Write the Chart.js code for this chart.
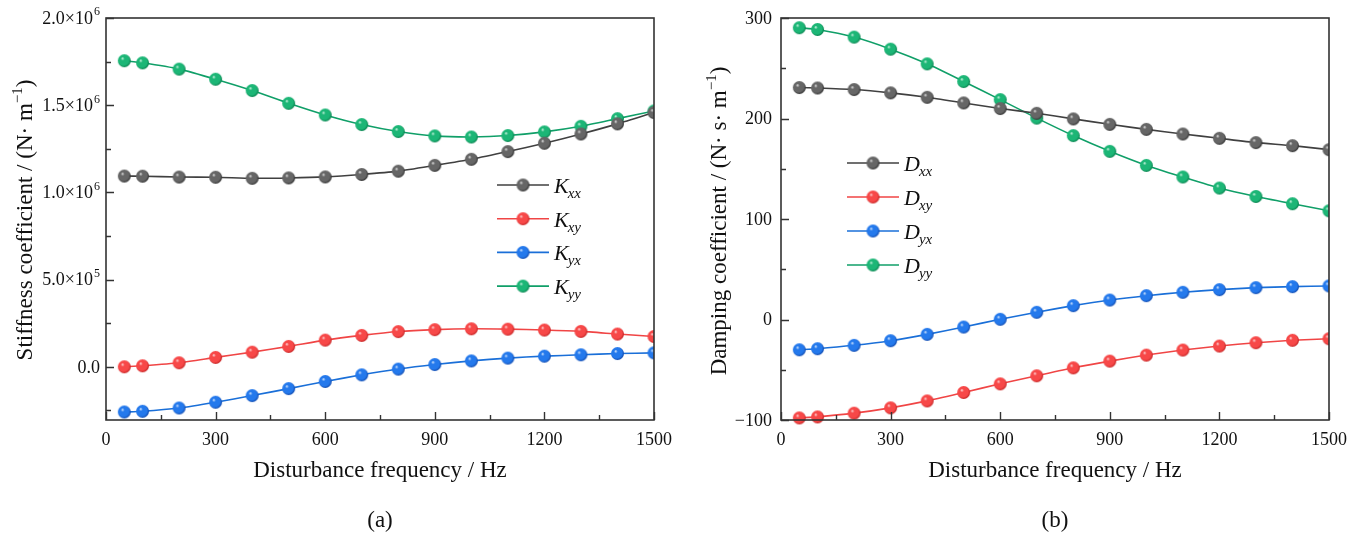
<!DOCTYPE html>
<html>
<head>
<meta charset="utf-8">
<script src="https://cdn.jsdelivr.net/npm/chart.js@4.4.0/dist/chart.umd.min.js"></script>
<style>
    html, body { margin: 0; padding: 0; background: #fff; }
    #wrap { position: relative; width: 1367px; height: 538px; }
    #stiffChart { position: absolute; left: 0; top: 0; }
    #dampChart { position: absolute; left: 690px; top: 0; }
</style>
</head>
<body>
<div id="wrap">
    <canvas id="stiffChart" width="690" height="538"></canvas>
    <canvas id="dampChart" width="677" height="538"></canvas>
</div>
<script>
// Disturbance frequency (Hz)
const freq = [50, 100, 200, 300, 400, 500, 600, 700, 800, 900, 1000, 1100, 1200, 1300, 1400, 1500];

// (a) stiffness coefficients, N/m
const kxx = [1.094e6, 1.093e6, 1.088e6, 1.087e6, 1.081e6, 1.083e6, 1.089e6, 1.103e6, 1.122e6, 1.155e6, 1.190e6, 1.234e6, 1.282e6, 1.335e6, 1.393e6, 1.458e6];
const kxy = [0, 6e3, 2.3e4, 5.4e4, 8.4e4, 1.17e5, 1.53e5, 1.80e5, 2.02e5, 2.13e5, 2.18e5, 2.16e5, 2.11e5, 2.03e5, 1.88e5, 1.74e5];
const kyx = [-2.59e5, -2.55e5, -2.36e5, -2.03e5, -1.65e5, -1.25e5, -8.4e4, -4.6e4, -1.3e4, 1.3e4, 3.4e4, 5.0e4, 6.1e4, 6.9e4, 7.6e4, 8.0e4];
const kyy = [1.755e6, 1.743e6, 1.707e6, 1.649e6, 1.584e6, 1.511e6, 1.444e6, 1.389e6, 1.349e6, 1.324e6, 1.318e6, 1.326e6, 1.347e6, 1.379e6, 1.423e6, 1.467e6];

// (b) damping coefficients, N*s/m
const dxx = [230.8, 230.4, 228.8, 225.5, 221.1, 215.5, 209.9, 205.2, 199.6, 194.2, 189.2, 184.6, 180.3, 176.0, 173.0, 169.0];
const dxy = [-97.9, -96.9, -93.2, -87.9, -81.0, -72.6, -64.0, -56.0, -48.1, -41.4, -35.4, -30.4, -26.4, -23.1, -20.7, -19.1];
const dyx = [-30.1, -29.1, -25.7, -21.1, -14.8, -7.5, 0.2, 7.2, 13.8, 19.4, 23.7, 27.1, 29.7, 31.7, 32.7, 33.4];
const dyy = [290.3, 288.6, 281.0, 269.0, 254.4, 236.8, 218.8, 200.4, 183.0, 167.3, 153.3, 141.8, 130.8, 122.4, 115.2, 108.2];

// ticks
const xMajor = [0, 300, 600, 900, 1200, 1500];
const xMinor = [150, 450, 750, 1050, 1350];
const kMajor = [0, 5e5, 1e6, 1.5e6, 2e6];
const kLabels = [['0.0', ''], ['5.0×10', '5'], ['1.0×10', '6'], ['1.5×10', '6'], ['2.0×10', '6']];
const kMinor = [-2.5e5, 2.5e5, 7.5e5, 1.25e6, 1.75e6];
const dMajor = [-100, 0, 100, 200, 300];
const dLabels = [['\u2212100', ''], ['0', ''], ['100', ''], ['200', ''], ['300', '']];
const dMinor = [-50, 50, 150, 250];

const SERIF = '"Liberation Serif", "Times New Roman", serif';

const palette = {
    gray:  { line: '#404040', light: '#e6e6e6', base: '#666666', dark: '#3a3a3a' },
    red:   { line: '#f04545', light: '#ffe0e0', base: '#f74848', dark: '#cc2a2a' },
    blue:  { line: '#1a6fd8', light: '#dcecff', base: '#2479ec', dark: '#1552b8' },
    green: { line: '#109f68', light: '#d4f8e6', base: '#1cb676', dark: '#0d8a55' }
};

// shaded ball used as point style
function makeBall(c) {
    const r = 6.5;
    const s = 15;
    const cv = document.createElement('canvas');
    cv.width = s; cv.height = s;
    const g = cv.getContext('2d');
    const cx = s / 2, cy = s / 2;
    const grad = g.createRadialGradient(cx - r * 0.3, cy - r * 0.38, 0, cx - r * 0.1, cy - r * 0.1, r * 1.05);
    grad.addColorStop(0, c.light);
    grad.addColorStop(0.28, c.base);
    grad.addColorStop(0.8, c.base);
    grad.addColorStop(1, c.dark);
    g.fillStyle = grad;
    g.beginPath();
    g.arc(cx, cy, r, 0, Math.PI * 2);
    g.fill();
    return cv;
}

const balls = {};
Object.keys(palette).forEach(k => { balls[k] = makeBall(palette[k]); });

function series(label, sub, ys, col) {
    return {
        label: label,
        sub: sub,
        colorKey: col,
        data: freq.map((f, i) => ({ x: f, y: ys[i] })),
        borderColor: palette[col].line,
        backgroundColor: palette[col].base,
        borderWidth: 1.6,
        tension: 0.2,
        pointStyle: balls[col],
        pointRadius: 6.5,
        clip: { left: 10, top: 10, bottom: 10, right: 0 }
    };
}

// text with optional superscript
function drawSup(ctx, base, sup, x, y, align, size) {
    const mainFont = size + 'px ' + SERIF;
    const supFont = Math.round(size * 0.68) + 'px ' + SERIF;
    ctx.font = mainFont;
    const wb = ctx.measureText(base).width;
    ctx.font = supFont;
    const ws = sup ? ctx.measureText(sup).width + 1 : 0;
    const total = wb + ws;
    let sx = x;
    if (align === 'right') sx = x - total;
    else if (align === 'center') sx = x - total / 2;
    ctx.textAlign = 'left';
    ctx.textBaseline = 'middle';
    ctx.font = mainFont;
    ctx.fillText(base, sx, y);
    if (sup) {
        ctx.font = supFont;
        ctx.fillText(sup, sx + wb + 1, y - size * 0.38);
    }
}

// segments: [text, font, dy]
function drawSegments(ctx, segs, x, y) {
    let w = 0;
    segs.forEach(s => { ctx.font = s[1]; w += ctx.measureText(s[0]).width; });
    let cx = x - w / 2;
    ctx.textAlign = 'left';
    ctx.textBaseline = 'alphabetic';
    segs.forEach(s => {
        ctx.font = s[1];
        ctx.fillText(s[0], cx, y + s[2]);
        cx += ctx.measureText(s[0]).width;
    });
}

const framePlugin = {
    id: 'frame',
    afterDatasetsDraw(chart, args, opts) {
        const ctx = chart.ctx;
        const a = chart.chartArea;
        const xs = chart.scales.x, ys = chart.scales.y;
        ctx.save();
        ctx.strokeStyle = '#333';
        ctx.lineWidth = 1.6;
        ctx.strokeRect(a.left, a.top, a.right - a.left, a.bottom - a.top);

        ctx.lineWidth = 1.4;
        ctx.beginPath();
        opts.xMajor.forEach(v => {
            const px = Math.round(xs.getPixelForValue(v)) + 0.5;
            ctx.moveTo(px, a.bottom); ctx.lineTo(px, a.bottom - 8);
        });
        opts.xMinor.forEach(v => {
            const px = Math.round(xs.getPixelForValue(v)) + 0.5;
            ctx.moveTo(px, a.bottom); ctx.lineTo(px, a.bottom - 5);
        });
        opts.yMajor.forEach(v => {
            const py = Math.round(ys.getPixelForValue(v)) + 0.5;
            ctx.moveTo(a.left, py); ctx.lineTo(a.left + 8, py);
        });
        opts.yMinor.forEach(v => {
            const py = Math.round(ys.getPixelForValue(v)) + 0.5;
            ctx.moveTo(a.left, py); ctx.lineTo(a.left + 5, py);
        });
        ctx.stroke();

        ctx.fillStyle = '#111';
        opts.xMajor.forEach(v => {
            drawSup(ctx, String(v), '', xs.getPixelForValue(v), a.bottom + 20, 'center', 18);
        });
        opts.yMajor.forEach((v, i) => {
            const lab = opts.yLabels[i];
            drawSup(ctx, lab[0], lab[1], a.left - opts.yGap, ys.getPixelForValue(v) + 1, 'right', 18);
        });
        ctx.restore();
    },
    afterDraw(chart, args, opts) {
        const ctx = chart.ctx;
        const a = chart.chartArea;
        const cx = (a.left + a.right) / 2;
        ctx.save();
        ctx.fillStyle = '#111';
        const big = '23px ' + SERIF;
        const small = '15px ' + SERIF;
        drawSegments(ctx, [['Disturbance frequency / Hz', big, 0]], cx, 477);
        drawSegments(ctx, [[opts.panel, big, 0]], cx, 527);

        ctx.save();
        ctx.translate(opts.yTitleX, opts.yTitleY);
        ctx.rotate(-Math.PI / 2);
        drawSegments(ctx, [[opts.yTitle, big, 0], ['\u22121', small, -10], [')', big, 0]], 0, 0);
        ctx.restore();

        // legend
        chart.data.datasets.forEach((ds, i) => {
            const y = opts.legY + i * opts.legStep;
            const x0 = opts.legX;
            ctx.strokeStyle = ds.borderColor;
            ctx.lineWidth = 1.6;
            ctx.beginPath();
            ctx.moveTo(x0, y); ctx.lineTo(x0 + 52, y);
            ctx.stroke();
            const b = balls[ds.colorKey];
            ctx.drawImage(b, x0 + 26 - b.width / 2, y - b.height / 2);
            ctx.textAlign = 'left';
            ctx.textBaseline = 'alphabetic';
            ctx.font = 'italic 22px ' + SERIF;
            ctx.fillStyle = '#111';
            ctx.fillText(ds.label, x0 + 57, y + 8);
            const w = ctx.measureText(ds.label).width;
            ctx.font = 'italic 15px ' + SERIF;
            ctx.fillText(ds.sub, x0 + 56 + w, y + 13);
        });
        ctx.restore();
    }
};

function makeChart(id, datasets, yMin, yMax, pad, frameOpts) {
    return new Chart(document.getElementById(id).getContext('2d'), {
        type: 'line',
        data: { datasets: datasets },
        options: {
            responsive: false,
            animation: false,
            devicePixelRatio: 1,
            layout: { padding: pad },
            scales: {
                x: { type: 'linear', min: 0, max: 1500, display: false },
                y: { type: 'linear', min: yMin, max: yMax, display: false }
            },
            plugins: {
                legend: { display: false },
                tooltip: { enabled: false },
                frame: frameOpts
            }
        },
        plugins: [framePlugin]
    });
}

makeChart('stiffChart', [
    series('K', 'xx', kxx, 'gray'),
    series('K', 'xy', kxy, 'red'),
    series('K', 'yx', kyx, 'blue'),
    series('K', 'yy', kyy, 'green')
], -3.05e5, 2e6, { left: 106, top: 18, right: 36, bottom: 118 }, {
    xMajor: xMajor, xMinor: xMinor, yMajor: kMajor, yMinor: kMinor, yLabels: kLabels, yGap: 6,
    panel: '(a)', yTitle: 'Stiffness coefficient / (N\u00b7 m', yTitleX: 32, yTitleY: 220,
    legX: 497, legY: 185, legStep: 33.7
});

makeChart('dampChart', [
    series('D', 'xx', dxx, 'gray'),
    series('D', 'xy', dxy, 'red'),
    series('D', 'yx', dyx, 'blue'),
    series('D', 'yy', dyy, 'green')
], -100, 300, { left: 91, top: 18, right: 38, bottom: 118 }, {
    xMajor: xMajor, xMinor: xMinor, yMajor: dMajor, yMinor: dMinor, yLabels: dLabels, yGap: 9,
    panel: '(b)', yTitle: 'Damping coefficient / (N\u00b7 s\u00b7 m', yTitleX: 36, yTitleY: 221,
    legX: 157, legY: 163, legStep: 34
});
</script>
</body>
</html>
